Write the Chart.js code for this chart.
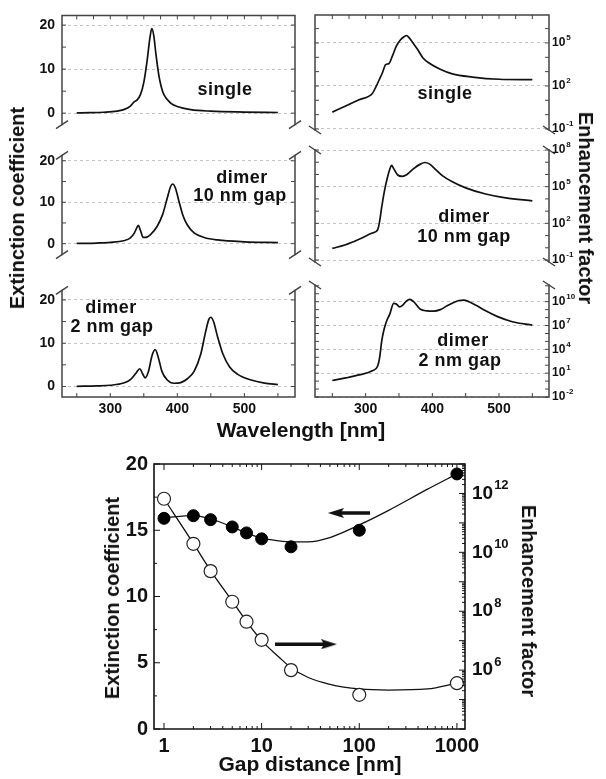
<!DOCTYPE html>
<html>
<head>
<meta charset="utf-8">
<script src="https://cdn.jsdelivr.net/npm/chart.js@4.4.1/dist/chart.umd.min.js"></script>
<style>
  body { margin: 0; background: #fff; width: 606px; height: 779px; position: relative; overflow: hidden;
         font-family: "Liberation Sans", Arial, sans-serif; font-weight: bold; color: #111; }
  canvas { position: absolute; }
  .t { position: absolute; white-space: nowrap; transform: translate(-50%, -50%); line-height: 1; }
  .note { font-size: 18px; letter-spacing: 0.5px; }
  .ttl { font-size: 20px; }
</style>
</head>
<body>
<canvas id="l1" width="305" height="140" style="left:0;top:0"></canvas>
<canvas id="l2" width="305" height="130" style="left:0;top:140px"></canvas>
<canvas id="l3" width="305" height="150" style="left:0;top:275px"></canvas>
<canvas id="r1" width="301" height="145" style="left:305px;top:0"></canvas>
<canvas id="r2" width="301" height="130" style="left:305px;top:140px"></canvas>
<canvas id="r3" width="301" height="150" style="left:305px;top:275px"></canvas>
<canvas id="gap" width="500" height="339" style="left:100px;top:440px"></canvas>

<div class="t note" style="left:225px;top:89px">single</div>
<div class="t note" style="left:445px;top:93px">single</div>
<div class="t note" style="left:242px;top:177px">dimer</div>
<div class="t note" style="left:240px;top:195px">10 nm gap</div>
<div class="t note" style="left:464px;top:216px">dimer</div>
<div class="t note" style="left:464px;top:236px">10 nm gap</div>
<div class="t note" style="left:111px;top:307px">dimer</div>
<div class="t note" style="left:112px;top:326px">2 nm gap</div>
<div class="t note" style="left:463px;top:340px">dimer</div>
<div class="t note" style="left:460px;top:360px">2 nm gap</div>

<div class="t ttl" style="left:17px;top:208px;transform:translate(-50%,-50%) rotate(-90deg)">Extinction coefficient</div>
<div class="t ttl" style="left:586px;top:208px;transform:translate(-50%,-50%) rotate(90deg)">Enhancement factor</div>
<div class="t ttl" style="left:301px;top:429px;font-size:21px">Wavelength [nm]</div>
<div class="t ttl" style="left:112px;top:598px;transform:translate(-50%,-50%) rotate(-90deg)">Extinction coefficient</div>
<div class="t ttl" style="left:529px;top:601px;transform:translate(-50%,-50%) rotate(90deg)">Enhancement factor</div>
<div class="t ttl" style="left:310px;top:763px;font-size:21px">Gap distance [nm]</div>

<script>
// extinction spectra (left column)
const wlSingle = [250,270,290,310,320,330,336,340,345,350,355,359,362,365,368,372,376,380,390,400,420,450,500,550];
const extSingle = [0.05,0.1,0.2,0.45,0.8,1.6,2.6,3.0,4.2,7,12,17,19.2,17.5,13.5,9,6,4.2,2.3,1.5,0.8,0.45,0.25,0.15];

const wlGap10 = [250,280,300,320,330,336,340,342,345,349,353,360,370,378,385,390,393,397,402,408,415,425,440,460,500,550];
const extGap10 = [0.05,0.15,0.3,0.7,1.4,2.6,4.0,4.4,3.2,1.5,1.5,2.2,4.2,7,11,13.8,14.4,13.5,10.5,7,4.5,2.6,1.5,0.9,0.45,0.25];

const wlGap2 = [250,280,300,320,330,338,344,348,352,357,362,367,372,377,385,395,405,415,425,435,442,447,450,454,460,468,478,490,510,530,550];
const extGap2 = [0.05,0.15,0.3,0.8,1.6,3.0,4.1,3.0,2.0,3.5,7,8.5,6.5,3.5,1.5,0.75,0.9,1.8,3.5,7.5,12.5,15.5,16.0,15,11.5,7.5,4.5,2.8,1.5,0.8,0.45];

// enhancement factor spectra (right column)
const wlEfSingle = [250,270,290,310,315,320,325,330,335,340,346,352,358,361,366,371,378,386,395,411,430,460,500,550];
const efSingle = [1.5,4,11,30,80,250,800,3100,3700,12000,59000,160000,280000,330000,210000,100000,35000,9000,4000,1550,700,420,295,275];

const wlEfGap10 = [250,270,290,310,318,321,324,328,332,336,339,342,348,355,362,372,382,389,396,405,415,430,450,480,510,550];
const efGap10 = [0.9,1.8,5,16,30,150,2000,40000,400000,2500000,5500000,3000000,900000,700000,1000000,3000000,7000000,9500000,7000000,2500000,800000,250000,80000,25000,12000,7000];

const wlEfGap2 = [250,270,290,310,318,321,324,327,331,336,342,346,351,356,361,366,372,382,392,402,412,422,432,440,447,455,467,480,497,520,550];
const efGap2 = [1.2,2.5,6,20,80,1e3,1e5,2e6,3e7,2.5e8,6e9,5e9,2.2e9,4e9,1.2e10,2e10,1e10,1.1e9,7e8,6.5e8,1e9,3e9,8e9,1.4e10,1.6e10,1e10,3e9,7e8,1.4e8,3e7,1.1e7];

// gap dependence (bottom)
const gapDist = [1,2,3,5,7,10,20,100,1000];
const extAtPeak = [15.9,16.1,15.8,15.25,14.8,14.35,13.75,15.0,19.25];
const efAtPeak = [6.6e11,1.95e10,2.3e9,2.1e8,4.4e7,1.07e7,1.0e6,1.45e5,3.6e5];
const fitGap = [1,2,3,5,7,10,15,20,30,50,100,200,500,1000];
const fitExt = [15.95,16.1,15.85,15.25,14.8,14.4,14.2,14.13,14.13,14.45,15.4,16.5,18.1,19.25];
const fitEf = [6.6e11,2.0e10,2.4e9,2.2e8,4.5e7,1.0e7,2.8e6,1.2e6,5.6e5,3.3e5,2.3e5,2.1e5,2.3e5,3.6e5];
const arrowLeftX = [129, 57.6], arrowLeftY = [16.3, 16.3];
const arrowRightX = [13.7, 48.9], arrowRightY = [6.4, 6.4];

// tick labels
const wlTicks = [300, 400, 500];
const extTicks = [0, 10, 20];
const efTicks1 = [1e-1, 1e2, 1e5];
const efTicks2 = [1e-1, 1e2, 1e5, 1e8];
const efTicks3 = [1e-2, 1e1, 1e4, 1e7, 1e10];
const gapTicks = [1, 10, 100, 1000];
const gapExtTicks = [0, 5, 10, 15, 20];
const gapEfTicks = [1e6, 1e8, 1e10, 1e12];

const FONT = '"Liberation Sans", Arial, sans-serif';
const pts = (xs, ys) => xs.map((x, i) => ({x: x, y: ys[i]}));
const range = (a, b, step) => { const r = []; for (let v = a; v <= b + 1e-9; v += step) r.push(v); return r; };
const decades = (a, b) => range(a, b, 1).map(e => Math.pow(10, e));
const logMinor = (a, b) => { const r = []; for (let e = a; e < b; e++) for (let m = 2; m < 10; m++) r.push(m * Math.pow(10, e)); return r; };

// frame, inward ticks, axis breaks and 10^n labels
const framePlugin = {
  id: 'frame',
  afterDatasetsDraw(chart, args, o) {
    if (!o || !o.sides) return;
    const ctx = chart.ctx, a = chart.chartArea;
    ctx.save();
    ctx.strokeStyle = o.color;
    ctx.lineWidth = o.lineWidth;
    ctx.lineCap = 'square';
    ctx.beginPath();
    if (o.sides.includes('left')) { ctx.moveTo(a.left, a.top); ctx.lineTo(a.left, a.bottom); }
    if (o.sides.includes('right')) { ctx.moveTo(a.right, a.top); ctx.lineTo(a.right, a.bottom); }
    if (o.sides.includes('top')) { ctx.moveTo(a.left, a.top); ctx.lineTo(a.right, a.top); }
    if (o.sides.includes('bottom')) { ctx.moveTo(a.left, a.bottom); ctx.lineTo(a.right, a.bottom); }
    ctx.stroke();

    ctx.lineWidth = 1;
    ctx.lineCap = 'butt';
    ctx.beginPath();
    (o.yTicks || []).forEach(t => {
      const s = chart.scales[t.scale];
      t.values.forEach(v => {
        const p = s.getPixelForValue(v);
        if (p < a.top - 0.5 || p > a.bottom + 0.5) return;
        t.sides.forEach(side => {
          const x = side === 'left' ? a.left : a.right;
          ctx.moveTo(x, p);
          ctx.lineTo(x + (side === 'left' ? t.len : -t.len), p);
        });
      });
    });
    (o.xTicks || []).forEach(t => {
      const s = chart.scales[t.scale];
      t.values.forEach(v => {
        const p = s.getPixelForValue(v);
        if (p < a.left - 0.5 || p > a.right + 0.5) return;
        t.sides.forEach(side => {
          const y = side === 'top' ? a.top : a.bottom;
          ctx.moveTo(p, y);
          ctx.lineTo(p, y + (side === 'top' ? t.len : -t.len));
        });
      });
    });
    ctx.stroke();

    ctx.lineWidth = o.lineWidth;
    ctx.beginPath();
    (o.breaks || []).forEach(side => {
      const y = side === 'top' ? a.top : a.bottom;
      [a.left, a.right].forEach(x => {
        ctx.moveTo(x - 6, y + 4 * o.slash);
        ctx.lineTo(x + 6, y - 4 * o.slash);
      });
    });
    ctx.stroke();

    const L = o.supLabels;
    if (L) {
      const s = chart.scales[L.scale];
      ctx.fillStyle = '#111';
      ctx.textBaseline = 'middle';
      ctx.textAlign = 'left';
      L.values.forEach(v => {
        const p = s.getPixelForValue(v);
        const x = a.right + L.dx;
        ctx.font = 'bold ' + L.size + 'px ' + FONT;
        ctx.fillText('10', x, p);
        const w = ctx.measureText('10').width;
        ctx.font = 'bold ' + L.expSize + 'px ' + FONT;
        ctx.fillText(String(Math.round(Math.log10(v))), x + w + 1, p - L.rise);
      });
    }
    ctx.restore();
  }
};
Chart.register(framePlugin);

function makePanel(id, xs, ys, p) {
  const isLeft = p.yPos === 'left';
  const frame = {
    color: '#444', lineWidth: 1.5, slash: isLeft ? 1 : -1,
    sides: ['left', 'right'].concat(p.edges), breaks: p.breaks,
    yTicks: [{scale: 'y', values: p.yMinorTicks, len: 4, sides: ['left', 'right']}],
    xTicks: [{scale: 'x', values: p.xMinorTicks, len: 4, sides: p.edges}],
    supLabels: isLeft ? null : {scale: 'y', values: p.yTicks, dx: 3, size: 12, expSize: 8, rise: 5}
  };
  return new Chart(document.getElementById(id), {
    type: 'line',
    data: { datasets: [{
      data: pts(xs, ys), borderColor: '#111', borderWidth: 1.7, pointRadius: 0,
      cubicInterpolationMode: 'monotone', fill: false
    }] },
    options: {
      responsive: false, animation: false, events: [],
      layout: { padding: p.padding },
      plugins: { legend: { display: false }, tooltip: { enabled: false }, frame: frame },
      scales: {
        x: {
          type: 'linear', min: p.xMin, max: p.xMax, display: p.showX,
          grid: { display: false, drawTicks: false }, border: { display: false },
          afterBuildTicks: s => { s.ticks = wlTicks.map(v => ({value: v})); },
          afterFit: s => { if (p.showX) s.height = p.xHeight; },
          ticks: { color: '#111', padding: 4, font: { family: FONT, weight: 'bold', size: 14 }, callback: v => String(v) }
        },
        y: {
          type: p.yType, position: p.yPos, min: p.yMin, max: p.yMax,
          grid: { color: '#c4c4c4', lineWidth: 1, drawTicks: false },
          border: { display: false, dash: [3, 3] },
          afterBuildTicks: s => { s.ticks = p.yTicks.map(v => ({value: v})); },
          afterFit: s => { s.width = p.yWidth; },
          ticks: { display: isLeft, color: '#111', padding: 7, font: { family: FONT, weight: 'bold', size: 14 }, callback: v => String(v) }
        }
      }
    }
  });
}

const leftBase = { yType: 'linear', yPos: 'left', yTicks: extTicks, yMinorTicks: [0, 5, 10, 15, 20], yWidth: 62, xMin: 228, xMax: 575.5 };
const rightBase = { yType: 'logarithmic', yPos: 'right', yWidth: 57, xMin: 224, xMax: 575 };

makePanel('l1', wlSingle, extSingle, Object.assign({}, leftBase, {
  yMin: -2.6, yMax: 22.2, padding: {top: 15, bottom: 12, left: 0, right: 10},
  showX: false, edges: ['top'], breaks: ['bottom'], xMinorTicks: range(250, 550, 25)
}));
makePanel('l2', wlGap10, extGap10, Object.assign({}, leftBase, {
  yMin: -2.64, yMax: 21.3, padding: {top: 13, bottom: 8, left: 0, right: 10},
  showX: false, edges: [], breaks: ['top', 'bottom'], xMinorTicks: []
}));
makePanel('l3', wlGap2, extGap2, Object.assign({}, leftBase, {
  yMin: -2.42, yMax: 22.2, padding: {top: 10, bottom: 0, left: 0, right: 10},
  showX: true, xHeight: 28, edges: ['bottom'], breaks: ['top'], xMinorTicks: range(250, 550, 50)
}));
makePanel('r1', wlEfSingle, efSingle, Object.assign({}, rightBase, {
  yMin: 0.085, yMax: 8.9e6, yTicks: efTicks1, yMinorTicks: decades(-1, 6),
  padding: {top: 15, bottom: 15, left: 10, right: 0},
  showX: false, edges: ['top'], breaks: ['bottom'], xMinorTicks: range(250, 550, 25)
}));
makePanel('r2', wlEfGap10, efGap10, Object.assign({}, rightBase, {
  yMin: 0.069, yMax: 1e8, yTicks: efTicks2, yMinorTicks: decades(-1, 8),
  padding: {top: 10, bottom: 8, left: 10, right: 0},
  showX: false, edges: [], breaks: ['top', 'bottom'], xMinorTicks: []
}));
makePanel('r3', wlEfGap2, efGap2, Object.assign({}, rightBase, {
  yMin: 1e-2, yMax: 1.26e12, yTicks: efTicks3, yMinorTicks: decades(-2, 12),
  padding: {top: 10, bottom: 0, left: 10, right: 0},
  showX: true, xHeight: 28, edges: ['bottom'], breaks: ['top'], xMinorTicks: range(250, 550, 50)
}));

// arrow head drawn once, used as point style
const head = document.createElement('canvas');
head.width = 16; head.height = 10;
(function () {
  const c = head.getContext('2d');
  c.fillStyle = '#111';
  c.beginPath(); c.moveTo(0, 0); c.lineTo(16, 5); c.lineTo(0, 10); c.lineTo(3, 5); c.closePath(); c.fill();
})();

const tickFont = { family: FONT, weight: 'bold', size: 20 };
new Chart(document.getElementById('gap'), {
  type: 'line',
  data: { datasets: [
    { data: pts(gapDist, extAtPeak), yAxisID: 'y', showLine: false, pointRadius: 6,
      pointBackgroundColor: '#000', pointBorderColor: '#000', pointBorderWidth: 1 },
    { data: pts(gapDist, efAtPeak), yAxisID: 'y2', showLine: false, pointRadius: 6.5,
      pointBackgroundColor: '#fff', pointBorderColor: '#222', pointBorderWidth: 1.2 },
    { data: pts(fitGap, fitExt), yAxisID: 'y', borderColor: '#111', borderWidth: 1.3,
      pointRadius: 0, cubicInterpolationMode: 'monotone' },
    { data: pts(fitGap, fitEf), yAxisID: 'y2', borderColor: '#111', borderWidth: 1.3,
      pointRadius: 0, cubicInterpolationMode: 'monotone' },
    { data: pts(arrowLeftX, arrowLeftY), yAxisID: 'y', borderColor: '#111', borderWidth: 3.5,
      pointRadius: [0, 8], pointStyle: head, pointRotation: 180 },
    { data: pts(arrowRightX, arrowRightY), yAxisID: 'y', borderColor: '#111', borderWidth: 3.5,
      pointRadius: [0, 8], pointStyle: head, pointRotation: 0 }
  ] },
  options: {
    responsive: false, animation: false, events: [],
    layout: { padding: { top: 24, left: 0, right: 0, bottom: 0 } },
    plugins: {
      legend: { display: false }, tooltip: { enabled: false },
      frame: {
        color: '#111', lineWidth: 1.6, slash: 1, sides: ['left', 'right', 'top', 'bottom'], breaks: [],
        yTicks: [
          { scale: 'y', values: range(0, 20, 5), len: 6, sides: ['left'] },
          { scale: 'y', values: range(2.5, 17.5, 5), len: 3, sides: ['left'] },
          { scale: 'y2', values: decades(4, 13), len: 6, sides: ['right'] },
          { scale: 'y2', values: logMinor(4, 13), len: 3, sides: ['right'] }
        ],
        xTicks: [
          { scale: 'x', values: gapTicks, len: 6, sides: ['top', 'bottom'] },
          { scale: 'x', values: logMinor(0, 3), len: 3, sides: ['top', 'bottom'] }
        ],
        supLabels: { scale: 'y2', values: gapEfTicks, dx: 7, size: 19, expSize: 13, rise: 8 }
      }
    },
    scales: {
      x: {
        type: 'logarithmic', min: 0.79, max: 1210,
        grid: { display: false, drawTicks: false }, border: { display: false },
        afterBuildTicks: s => { s.ticks = gapTicks.map(v => ({value: v})); },
        afterFit: s => { s.height = 50; },
        ticks: { color: '#111', padding: 5, font: tickFont, callback: v => String(v) }
      },
      y: {
        type: 'linear', position: 'left', min: 0, max: 20,
        grid: { display: false, drawTicks: false }, border: { display: false },
        afterBuildTicks: s => { s.ticks = gapExtTicks.map(v => ({value: v})); },
        afterFit: s => { s.width = 54; },
        ticks: { color: '#111', padding: 6, font: tickFont, callback: v => String(v) }
      },
      y2: {
        type: 'logarithmic', position: 'right', min: 1e4, max: 1e13,
        grid: { display: false, drawTicks: false }, border: { display: false },
        afterBuildTicks: s => { s.ticks = gapEfTicks.map(v => ({value: v})); },
        afterFit: s => { s.width = 135; },
        ticks: { display: false }
      }
    }
  }
});
</script>
</body>
</html>
